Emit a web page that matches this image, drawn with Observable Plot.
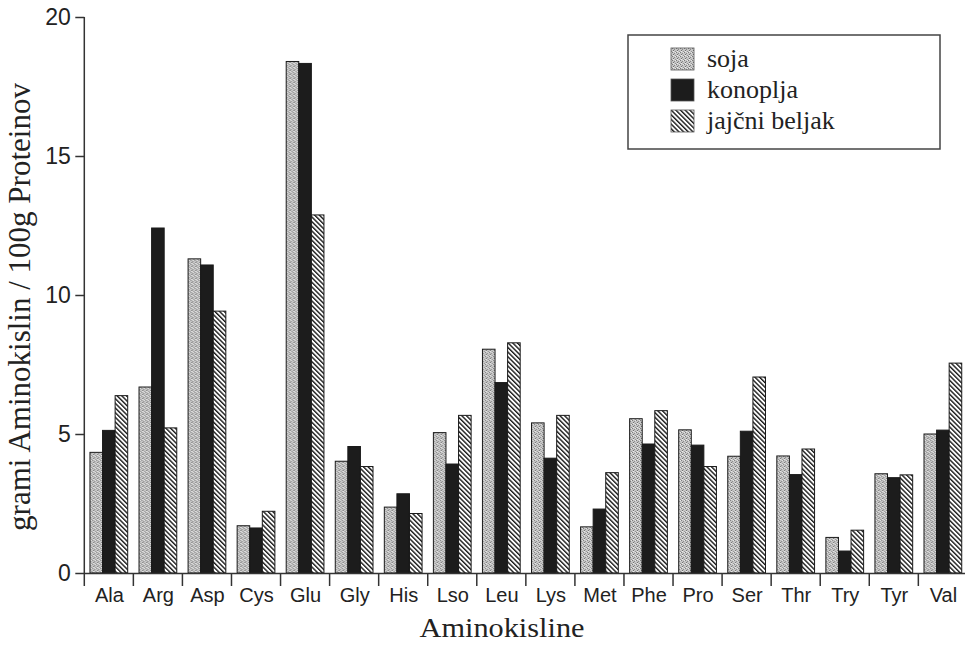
<!DOCTYPE html>
<html><head><meta charset="utf-8">
<script src="https://cdn.jsdelivr.net/npm/d3@7"></script>
<script src="https://cdn.jsdelivr.net/npm/@observablehq/plot@0.6"></script>
<style>
body{margin:0;background:#fff}
#chart{position:relative;width:965px;height:646px;overflow:hidden}
</style>
</head><body>
<svg width="0" height="0" style="position:absolute">
<defs>
<pattern id="pSoja" patternUnits="userSpaceOnUse" width="4" height="4">
 <rect width="4" height="4" fill="#c6c6c6"/>
 <rect x="0" y="0" width="1" height="1" fill="#7a7a7a"/>
 <rect x="2" y="1" width="1" height="1" fill="#8a8a8a"/>
 <rect x="1" y="2" width="1" height="1" fill="#6f6f6f"/>
 <rect x="3" y="3" width="1" height="1" fill="#939393"/>
 <rect x="3" y="0" width="1" height="1" fill="#e8e8e8"/>
 <rect x="1" y="3" width="1" height="1" fill="#ececec"/>
</pattern>
<pattern id="pJaj" patternUnits="userSpaceOnUse" width="3.3" height="6" patternTransform="rotate(-45)">
 <rect width="3.3" height="6" fill="#fff"/>
 <rect x="0" y="0" width="1.4" height="6" fill="#1a1a1a"/>
</pattern>
</defs></svg>
<div id="chart"></div>
<script>
const aminos = ["Ala","Arg","Asp","Cys","Glu","Gly","His","Lso","Leu","Lys","Met","Phe","Pro","Ser","Thr","Try","Tyr","Val"];
const series = ["soja","konoplja","jajčni beljak"];
const soja     = [4.34, 6.69, 11.30, 1.70, 18.40, 4.02, 2.37, 5.05, 8.05, 5.40, 1.66, 5.55, 5.15, 4.20, 4.21, 1.28, 3.57, 5.00];
const konoplja = [5.13, 12.41, 11.08, 1.62, 18.33, 4.55, 2.85, 3.92, 6.85, 4.13, 2.30, 4.64, 4.60, 5.10, 3.54, 0.79, 3.43, 5.14];
const jajcni   = [6.38, 5.22, 9.42, 2.22, 12.88, 3.83, 2.14, 5.67, 8.28, 5.67, 3.61, 5.84, 3.83, 7.05, 4.46, 1.54, 3.53, 7.55];
const yTicks = [0, 5, 10, 15, 20];
const yTitle = "grami Aminokislin / 100g Proteinov";
const xTitle = "Aminokisline";

const valuesBySeries = [soja, konoplja, jajcni];
const data = aminos.flatMap((a, i) => series.map((s, k) => ({amino: a, series: s, value: valuesBySeries[k][i]})));

const sans = '"Liberation Sans", Arial, sans-serif';
const serif = '"Liberation Serif", "Times New Roman", serif';

const chart = Plot.plot({
  width: 965, height: 646,
  marginTop: 17, marginBottom: 73, marginLeft: 84, marginRight: 0,
  style: {fontFamily: sans, background: "#fff", color: "#222"},
  fx: {domain: aminos, range: [84.3, 967.4], padding: 0, round: false, axis: null, label: null},
  x: {domain: series, paddingInner: 0, paddingOuter: 0.45, round: false, axis: null},
  y: {domain: [0, 20], axis: null},
  color: {domain: series, range: ["url(#pSoja)", "#1c1c1c", "url(#pJaj)"]},
  marks: [
    Plot.barY(data, {fx: "amino", x: "series", y: "value", fill: "series", stroke: "#1a1a1a", strokeWidth: 1}),
    Plot.ruleY([0], {stroke: "#333", strokeWidth: 1.5}),
    Plot.axisY({ticks: yTicks, tickSize: 9, tickPadding: 5, fontSize: 23, label: null, stroke: "#333", strokeWidth: 1.5}),
    Plot.axisFx({anchor: "bottom", tickSize: 0, tickPadding: 14, fontSize: 20, label: null})
  ]
});
document.getElementById("chart").appendChild(chart);

const svg = d3.select(chart);
const fxS = chart.scale("fx"), yS = chart.scale("y");
const y0 = yS.apply(0), yTop = yS.apply(20);
const g = svg.append("g").attr("stroke", "#333").attr("stroke-width", 1.5);
aminos.forEach(a => {
  const x = fxS.apply(a);
  g.append("line").attr("x1", x).attr("x2", x).attr("y1", y0).attr("y2", y0 + 13);
});
const xa = fxS.apply(aminos[0]);
g.append("line").attr("x1", xa).attr("x2", xa).attr("y1", yTop).attr("y2", y0);

// titles
svg.append("text").attr("transform", `translate(30,${(yTop + y0) / 2 + 12}) rotate(-90)`)
  .attr("text-anchor", "middle").style("font-family", serif).style("font-size", "31px").attr("fill", "#222")
  .text(yTitle);
svg.append("text").attr("x", 502).attr("y", 637).attr("text-anchor", "middle")
  .style("font-family", serif).style("font-size", "27px").attr("fill", "#222")
  .attr("textLength", 165).attr("lengthAdjust", "spacingAndGlyphs")
  .text(xTitle);

// legend
const lg = svg.append("g").attr("text-anchor", "start");
lg.append("rect").attr("x", 628).attr("y", 35).attr("width", 312).attr("height", 114)
  .attr("fill", "#fff").attr("stroke", "#444").attr("stroke-width", 1.5);
const fills = ["url(#pSoja)", "#1c1c1c", "url(#pJaj)"];
const rowY = [59, 90, 121];
series.forEach((s, k) => {
  lg.append("rect").attr("x", 671).attr("y", rowY[k] - 11).attr("width", 23).attr("height", 22)
    .attr("fill", fills[k]).attr("stroke", "#555").attr("stroke-width", 0.8);
  lg.append("text").attr("x", 707).attr("y", rowY[k] + 8).attr("text-anchor", "start")
    .style("font-family", serif).style("font-size", "26px").attr("fill", "#222").text(s);
});
</script>
</body></html>
